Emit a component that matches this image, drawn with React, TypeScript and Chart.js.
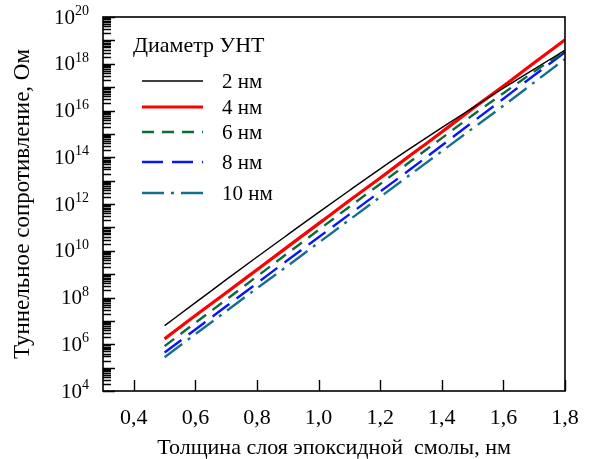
import { useEffect, useRef } from "react";
import { Chart, registerables } from "chart.js";

Chart.register(...registerables);

// Epoxy layer thickness, nm
const thickness = [0.5, 0.6, 0.7, 0.8, 0.9, 1.0, 1.1, 1.2, 1.3, 1.4, 1.5, 1.6, 1.7, 1.8];

// Tunnel resistance, Ohm, for each CNT diameter
const resistance2nm = [6.3e6, 6.0e7, 5.8e8, 5.4e9, 4.9e10, 4.4e11, 3.8e12, 3.2e13, 2.5e14, 1.85e15, 1.3e16, 9.0e16, 5.9e17, 3.8e18];
const resistance4nm = [1.7e6, 1.7e7, 1.6e8, 1.55e9, 1.5e10, 1.45e11, 1.4e12, 1.3e13, 1.27e14, 1.2e15, 1.2e16, 1.1e17, 1.1e18, 1.05e19];
const resistance6nm = [8.3e5, 8.3e6, 8.1e7, 8.0e8, 7.9e9, 7.8e10, 7.6e11, 7.2e12, 6.9e13, 6.6e14, 6.3e15, 5.5e16, 4.6e17, 3.5e18];
const resistance8nm = [4.4e5, 4.3e6, 4.2e7, 4.1e8, 4.0e9, 3.8e10, 3.6e11, 3.4e12, 3.2e13, 3.2e14, 3.2e15, 3.2e16, 3.2e17, 3.1e18];
const resistance10nm = [2.8e5, 2.7e6, 2.6e7, 2.5e8, 2.3e9, 2.2e10, 2.1e11, 2.0e12, 1.9e13, 1.8e14, 1.7e15, 1.6e16, 1.6e17, 1.6e18];

const diameterLabels = ["2 нм", "4 нм", "6 нм", "8 нм", "10 нм"];
const legendTitle = "Диаметр УНТ";
const xTitle = "Толщина слоя эпоксидной  смолы, нм";
const yTitle = "Туннельное сопротивление, Ом";

const xTickValues = [0.4, 0.6, 0.8, 1.0, 1.2, 1.4, 1.6, 1.8];
const yLabelExponents = [4, 6, 8, 10, 12, 14, 16, 18, 20];

const FONT = '"Liberation Serif", serif';

const toPoints = (values: number[]) => thickness.map((x, i) => ({ x, y: values[i] }));

// Frame, inward tick marks, power-of-ten labels and the in-plot legend
const decorations = {
  id: "decorations",
  afterDatasetsDraw(chart: any) {
    const { ctx, chartArea } = chart;
    const { left, right, top, bottom } = chartArea;
    const xs = chart.scales.x;
    const ys = chart.scales.y;
    ctx.save();
    ctx.strokeStyle = "#000";
    ctx.lineWidth = 1.4;
    ctx.beginPath();
    // y ticks: every decade major, 2..9 minor
    for (let n = 4; n <= 20; n++) {
      const py = Math.round(ys.getPixelForValue(Math.pow(10, n))) + 0.5;
      ctx.moveTo(left, py);
      ctx.lineTo(left + 12, py);
      if (n < 20) {
        for (let k = 2; k <= 9; k++) {
          const my = Math.round(ys.getPixelForValue(k * Math.pow(10, n))) + 0.5;
          ctx.moveTo(left, my);
          ctx.lineTo(left + 8, my);
        }
      }
    }
    for (const v of xTickValues) {
      const px = Math.round(xs.getPixelForValue(v)) + 0.5;
      ctx.moveTo(px, bottom);
      ctx.lineTo(px, bottom - 11);
    }
    ctx.stroke();
    ctx.lineWidth = 1.6;
    ctx.strokeRect(left, top, right - left, bottom - top);

    // y labels as 10 with superscript exponent
    ctx.fillStyle = "#000";
    ctx.textBaseline = "alphabetic";
    for (const e of yLabelExponents) {
      const py = ys.getPixelForValue(Math.pow(10, e));
      ctx.font = `14px ${FONT}`;
      const ew = ctx.measureText(String(e)).width;
      const ex = left - 14 - ew;
      ctx.textAlign = "left";
      ctx.fillText(String(e), ex, py - 2);
      ctx.font = `21px ${FONT}`;
      ctx.textAlign = "right";
      ctx.fillText("10", ex, py + 6.5);
    }
    ctx.restore();
  },
  afterDraw(chart: any) {
    const { ctx } = chart;
    const rows = [81, 107, 132, 162, 193];
    ctx.save();
    ctx.fillStyle = "#000";
    ctx.textAlign = "left";
    ctx.textBaseline = "alphabetic";
    ctx.font = `22px ${FONT}`;
    ctx.fillText(legendTitle, 133, 52);
    ctx.font = `21px ${FONT}`;
    chart.data.datasets.forEach((ds: any, i: number) => {
      const y = rows[i];
      ctx.save();
      ctx.strokeStyle = ds.borderColor;
      ctx.lineWidth = ds.borderWidth;
      ctx.setLineDash(ds.borderDash || []);
      ctx.beginPath();
      ctx.moveTo(142, y);
      ctx.lineTo(203, y);
      ctx.stroke();
      ctx.restore();
      ctx.fillText(ds.label, 222, y + 6.6);
    });
    ctx.restore();
  },
};

export default function App() {
  const canvasRef = useRef<HTMLCanvasElement>(null);

  useEffect(() => {
    const canvas = canvasRef.current;
    if (!canvas) return;
    let chart: Chart | null = null;
    let cancelled = false;

    const build = () => {
      if (cancelled) return;
      chart = new Chart(canvas, {
        type: "line",
        data: {
          datasets: [
            { label: diameterLabels[0], data: toPoints(resistance2nm), borderColor: "#000000", borderWidth: 1.4, borderDash: [] },
            { label: diameterLabels[1], data: toPoints(resistance4nm), borderColor: "#ff0000", borderWidth: 3.2, borderDash: [] },
            { label: diameterLabels[2], data: toPoints(resistance6nm), borderColor: "#0d6b36", borderWidth: 2.4, borderDash: [12, 8] },
            { label: diameterLabels[3], data: toPoints(resistance8nm), borderColor: "#0a14ff", borderWidth: 2.4, borderDash: [21, 9] },
            { label: diameterLabels[4], data: toPoints(resistance10nm), borderColor: "#13708e", borderWidth: 2.4, borderDash: [22, 7, 3, 7] },
          ] as any,
        },
        options: {
          animation: false,
          responsive: false,
          devicePixelRatio: 1,
          layout: { padding: { left: 0, top: 17, right: 26, bottom: 0 } },
          elements: { point: { radius: 0 }, line: { cubicInterpolationMode: "monotone", fill: false } },
          plugins: { legend: { display: false }, tooltip: { enabled: false } },
          scales: {
            x: {
              type: "linear",
              min: 0.3,
              max: 1.8,
              grid: { display: false },
              border: { display: false },
              afterBuildTicks: (s: any) => {
                s.ticks = xTickValues.map((v) => ({ value: v }));
              },
              afterFit: (s: any) => {
                s.height = 68;
              },
              ticks: {
                callback: (v: any) => Number(v).toFixed(1).replace(".", ","),
                font: { family: FONT, size: 22 },
                color: "#000",
                padding: 6,
                maxRotation: 0,
                autoSkip: false,
              },
              title: {
                display: true,
                text: xTitle,
                font: { family: FONT, size: 22 },
                color: "#000",
                padding: { top: 0, bottom: -2 },
              },
            },
            y: {
              type: "logarithmic",
              min: 1e4,
              max: 1e20,
              grid: { display: false },
              border: { display: false },
              ticks: { display: false },
              afterFit: (s: any) => {
                s.width = 103;
              },
              title: {
                display: true,
                text: yTitle,
                font: { family: FONT, size: 23 },
                color: "#000",
                padding: { top: 9.5, bottom: 0 },
              },
            },
          },
        } as any,
        plugins: [decorations],
      });
    };

    const fonts = (document as any).fonts;
    if (fonts && fonts.load) {
      Promise.all([fonts.load(`20px ${FONT}`, "Толщина 0123"), fonts.load(`13px ${FONT}`, "0123")])
        .catch(() => undefined)
        .then(build);
    } else {
      build();
    }

    return () => {
      cancelled = true;
      if (chart) chart.destroy();
    };
  }, []);

  return (
    <div style={{ position: "fixed", left: 0, top: 0, width: 591, height: 459, background: "#fff" }}>
      <canvas ref={canvasRef} width={591} height={459} style={{ width: 591, height: 459 }} />
    </div>
  );
}
